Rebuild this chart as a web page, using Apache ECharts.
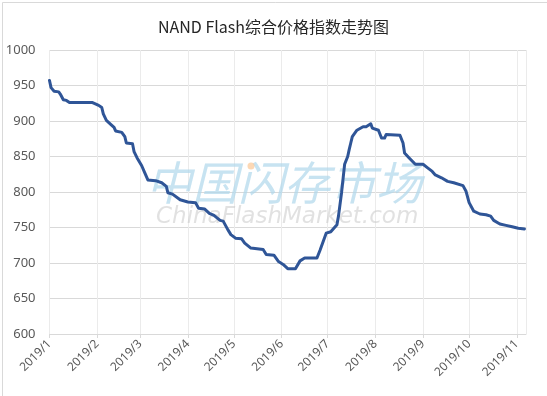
<!DOCTYPE html>
<html>
<head>
<meta charset="utf-8">
<script src="https://cdn.jsdelivr.net/npm/echarts@6/dist/echarts.min.js"></script>
<style>html,body{margin:0;padding:0;background:#fff;}#c{width:547px;height:396px;}</style>
</head>
<body>
<div id="c"></div>
<script>
const titleText = 'NAND Flash综合价格指数走势图';
const dates = ['2019-01-01','2019-01-02','2019-01-04','2019-01-07','2019-01-08','2019-01-10','2019-01-12','2019-01-14','2019-01-29','2019-01-30','2019-02-02','2019-02-04','2019-02-05','2019-02-07','2019-02-10','2019-02-12','2019-02-13','2019-02-17','2019-02-19','2019-02-20','2019-02-24','2019-02-25','2019-02-27','2019-03-02','2019-03-04','2019-03-06','2019-03-11','2019-03-15','2019-03-18','2019-03-19','2019-03-22','2019-03-27','2019-04-01','2019-04-06','2019-04-08','2019-04-12','2019-04-15','2019-04-18','2019-04-22','2019-04-24','2019-04-27','2019-04-29','2019-05-02','2019-05-06','2019-05-08','2019-05-12','2019-05-20','2019-05-22','2019-05-27','2019-05-30','2019-06-02','2019-06-05','2019-06-10','2019-06-13','2019-06-16','2019-06-24','2019-06-26','2019-06-30','2019-07-03','2019-07-07','2019-07-08','2019-07-10','2019-07-12','2019-07-14','2019-07-15','2019-07-16','2019-07-17','2019-07-20','2019-07-24','2019-07-26','2019-07-29','2019-07-30','2019-08-03','2019-08-05','2019-08-07','2019-08-08','2019-08-17','2019-08-19','2019-08-20','2019-08-23','2019-08-27','2019-08-28','2019-09-01','2019-09-04','2019-09-07','2019-09-09','2019-09-13','2019-09-17','2019-09-21','2019-09-27','2019-09-29','2019-10-01','2019-10-04','2019-10-08','2019-10-12','2019-10-15','2019-10-17','2019-10-21','2019-10-25','2019-10-29','2019-11-02','2019-11-06'];
const values = [957,947,942,941,938,930,929,926,926,925,922,919,910,901,895,891,886,884,878,869,868,857,848,837,827,817,816,813,808,799,797,789,786,785,777,776,770,767,760,759,747,740,735,734,728,721,719,712,711,702,698,692,692,703,707,707,718,742,744,754,766,799,839,850,860,869,878,887,892,892,896,890,887,876,876,881,880,869,855,848,839,837,839,834,829,824,820,815,813,809,801,785,773,769,768,766,760,755,753,751,749,748];
const yTicks = {min: 600, max: 1000, step: 50};
const xRange = ['2019-01-01', '2019-11-07'];

const chart = echarts.init(document.getElementById('c'), null, {renderer: 'canvas'});
const seriesData = dates.map((d, i) => [d, values[i]]);
chart.setOption({
  animation: false,
  backgroundColor: '#fff',
  title: {
    text: titleText,
    left: 'center',
    top: 14,
    textStyle: {fontFamily: 'Noto Sans CJK SC', fontSize: 16, fontWeight: 'normal', color: '#262626'}
  },
  grid: {left: 49.5, right: 21, top: 50, bottom: 62},
  graphic: [
    {type: 'rect', left: 0, top: 0, z: 0, silent: true,
     shape: {x: 0.5, y: 0.5, width: 546, height: 395},
     style: {fill: 'none', stroke: '#d9d9d9', lineWidth: 1}},
    {type: 'text', left: 146, top: 160, z: 1, silent: true,
     style: {text: '中国闪存市场', fontFamily: 'Noto Sans CJK SC', fontSize: 46, fontStyle: 'italic', fill: 'rgba(175,215,235,0.7)'}},
    {type: 'circle', z: 1, silent: true, shape: {cx: 251, cy: 166, r: 3.5}, style: {fill: 'rgba(251,200,150,0.7)'}},
    {type: 'text', left: 156, top: 206, z: 1, silent: true,
     style: {text: 'ChinaFlashMarket.com', fontFamily: 'DejaVu Sans', fontSize: 23, fontStyle: 'italic', fill: 'rgba(200,200,200,0.55)'}}
  ],
  xAxis: {
    type: 'time',
    min: xRange[0],
    max: xRange[1],
    splitNumber: 10,
    axisLine: {lineStyle: {color: '#d9d9d9'}},
    axisTick: {show: true, length: 4, lineStyle: {color: '#d9d9d9'}},
    splitLine: {show: true, lineStyle: {color: '#ebebeb'}},
    axisLabel: {
      rotate: 45, margin: 8, fontSize: 12, color: '#595959', fontFamily: 'Noto Sans',
      hideOverlap: false,
      formatter: function (v) { const d = new Date(v); return d.getFullYear() + '/' + (d.getMonth() + 1); }
    }
  },
  yAxis: {
    type: 'value',
    min: yTicks.min, max: yTicks.max, interval: yTicks.step,
    axisLine: {show: false},
    axisTick: {show: false},
    splitLine: {lineStyle: {color: '#d9d9d9'}},
    axisLabel: {fontSize: 13, color: '#595959', margin: 14, fontFamily: 'Noto Sans',
      formatter: function (v) { return String(v); }}
  },
  series: [{
    type: 'line',
    data: seriesData,
    showSymbol: false,
    z: 3,
    lineStyle: {color: '#2f5597', width: 3, join: 'round', cap: 'round'}
  }]
});
</script>
</body>
</html>
